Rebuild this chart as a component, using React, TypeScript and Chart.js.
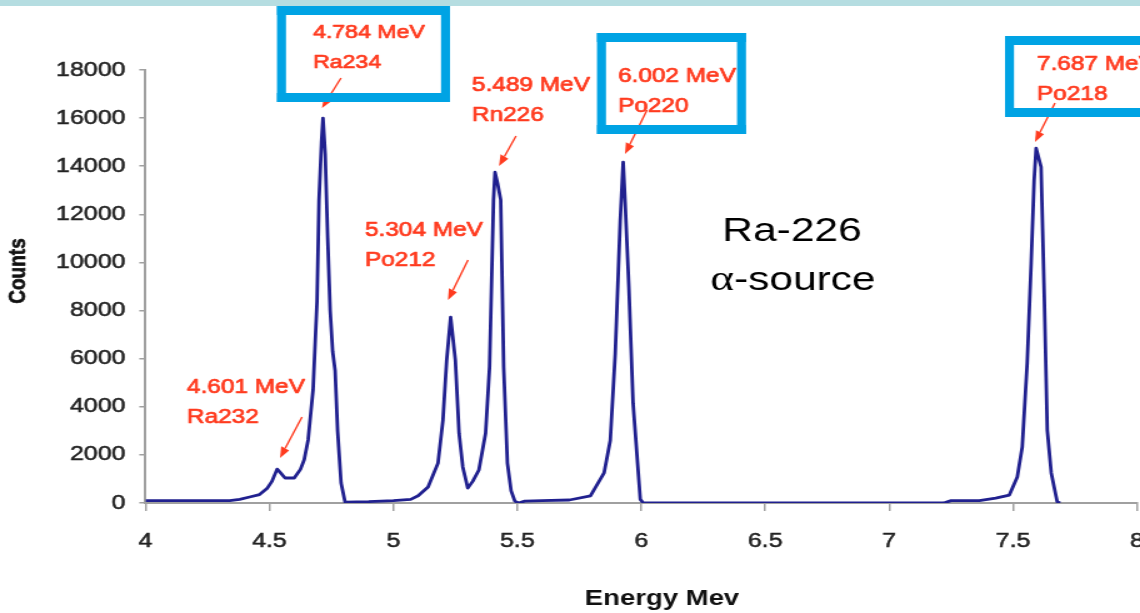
import React, { useEffect, useRef } from "react";
import { Chart, registerables } from "chart.js";

Chart.register(...registerables);

// ---------- data ----------
const energy: number[] = [
  4.0, 4.2, 4.34, 4.38, 4.42, 4.46, 4.49, 4.51, 4.531, 4.545, 4.563, 4.6, 4.625, 4.64, 4.656, 4.676,
  4.692, 4.7, 4.71, 4.716, 4.725, 4.735, 4.745, 4.755, 4.765, 4.775, 4.789, 4.805, 4.9, 5.0, 5.07,
  5.1, 5.14, 5.18, 5.2, 5.215, 5.231, 5.25, 5.265, 5.28, 5.3, 5.32, 5.345, 5.372, 5.388, 5.404,
  5.41, 5.42, 5.433, 5.445, 5.46, 5.475, 5.49, 5.505, 5.53, 5.6, 5.71, 5.795, 5.85, 5.875, 5.895,
  5.915, 5.927, 5.935, 5.95, 5.967, 5.996, 6.008, 6.5, 7.0, 7.22, 7.25, 7.364, 7.43, 7.485, 7.517,
  7.537, 7.557, 7.573, 7.585, 7.593, 7.613, 7.626, 7.638, 7.654, 7.678, 7.69,
];
const counts: number[] = [
  100, 100, 100, 150, 250, 350, 600, 900, 1410, 1250, 1040, 1040, 1400, 1790, 2620, 4700,
  8400, 12600, 15000, 16000, 14500, 11000, 8000, 6300, 5500, 3000, 830, 40, 60, 100, 150,
  300, 665, 1660, 3450, 5940, 7730, 5940, 2900, 1500, 620, 900, 1370, 2900, 5650, 12600,
  13750, 13300, 12600, 5650, 1660, 500, 80, 0, 80, 100, 125, 300, 1250, 2600, 6200,
  11700, 14170, 12500, 9000, 4150, 150, 0, 0, 0, 0, 100, 100, 200, 330, 1080,
  2330, 5820, 9980, 13420, 14750, 13970, 8560, 3030, 1250, 50, 0,
];
const xTickValues: number[] = [4, 4.5, 5, 5.5, 6, 6.5, 7, 7.5, 8];
const yTickValues: number[] = [0, 2000, 4000, 6000, 8000, 10000, 12000, 14000, 16000, 18000];
const peakEnergyLabels: string[] = ["4.784 MeV", "5.489 MeV", "6.002 MeV", "7.687 MeV", "5.304 MeV", "4.601 MeV"];
const peakIsotopes: string[] = ["Ra234", "Rn226", "Po220", "Po218", "Po212", "Ra232"];
const xTitle = "Energy Mev";
const yTitle = "Counts";
const sourceLine1 = "Ra-226";
const sourceAlpha = "α";
const sourceLine2 = "-source";

// ---------- layout (screen px) ----------
const W = 1140;
const H = 613;
const SX = 1.25; // horizontal stretch of the picture
const IW = W / SX;
const X = (px: number) => px / SX;

const RED = "#ff3b1f";
const BOXBLUE = "#00a3e4";
const SANS = "'Liberation Sans', Arial, sans-serif";
const SERIF = "'Liberation Serif', 'Times New Roman', serif";

// text anchor (left, first baseline), font size, arrow (from -> tip)
const labelLayout = [
  { x: 313, y: 38, size: 18.5, ax: 341, ay: 78, tx: 322, ty: 108 },
  { x: 472, y: 91, size: 19.5, ax: 516, ay: 136, tx: 499, ty: 166 },
  { x: 618, y: 82, size: 19.5, ax: 647, ay: 110, tx: 625, ty: 154 },
  { x: 1037, y: 70, size: 19.5, ax: 1055, ay: 103, tx: 1035, ty: 142 },
  { x: 365, y: 236, size: 19.5, ax: 468, ay: 260, tx: 448, ty: 300 },
  { x: 187, y: 393, size: 19.5, ax: 302, ay: 417, tx: 280, ty: 458 },
];
// outer rects of the highlight boxes (screen px)
const boxLayout = [
  { l: 277, t: 6, r: 450, b: 102 },
  { l: 597, t: 33, r: 746, b: 134 },
  { l: 1005, t: 36, r: 1160, b: 117 },
];
const BOX_T = 9;

const overlayPlugin = {
  id: "overlay",
  afterDraw(chart: any) {
    const ctx: CanvasRenderingContext2D = chart.ctx;
    ctx.save();
    // top band
    ctx.fillStyle = "#b5dde1";
    ctx.fillRect(0, 0, IW, 6);

    // arrows
    ctx.strokeStyle = RED;
    ctx.fillStyle = RED;
    ctx.lineWidth = 1.4;
    labelLayout.forEach((L) => {
      const x1 = X(L.ax), y1 = L.ay, x2 = X(L.tx), y2 = L.ty;
      const dx = L.tx - L.ax, dy = L.ty - L.ay;
      const len = Math.hypot(dx, dy);
      const ux = dx / len, uy = dy / len;
      const head = 11, hw = 4.5;
      const bx = L.tx - ux * head, by = L.ty - uy * head;
      ctx.beginPath();
      ctx.moveTo(x1, y1);
      ctx.lineTo(X(bx), by);
      ctx.stroke();
      ctx.beginPath();
      ctx.moveTo(x2, y2);
      ctx.lineTo(X(bx - uy * hw), by + ux * hw);
      ctx.lineTo(X(bx + uy * hw), by - ux * hw);
      ctx.closePath();
      ctx.fill();
    });

    // boxes
    ctx.fillStyle = BOXBLUE;
    boxLayout.forEach((B) => {
      ctx.fillRect(X(B.l), B.t, X(B.r) - X(B.l), BOX_T);
      ctx.fillRect(X(B.l), B.b - BOX_T, X(B.r) - X(B.l), BOX_T);
      ctx.fillRect(X(B.l), B.t, X(B.l + BOX_T) - X(B.l), B.b - B.t);
      ctx.fillRect(X(B.r - BOX_T), B.t, X(B.r) - X(B.r - BOX_T), B.b - B.t);
    });

    // red labels
    ctx.fillStyle = RED;
    ctx.strokeStyle = RED;
    ctx.lineWidth = 0.7;
    ctx.lineJoin = "round";
    ctx.textAlign = "left";
    ctx.textBaseline = "alphabetic";
    labelLayout.forEach((L, i) => {
      ctx.font = `${L.size}px ${SANS}`;
      ctx.fillText(peakEnergyLabels[i], X(L.x), L.y);
      ctx.strokeText(peakEnergyLabels[i], X(L.x), L.y);
      ctx.fillText(peakIsotopes[i], X(L.x), L.y + 29.5);
      ctx.strokeText(peakIsotopes[i], X(L.x), L.y + 29.5);
    });

    // source text
    ctx.fillStyle = "#000";
    ctx.font = `34px ${SANS}`;
    ctx.textAlign = "center";
    ctx.fillText(sourceLine1, X(792), 241);
    ctx.font = `36px ${SERIF}`;
    const wa = ctx.measureText(sourceAlpha).width;
    ctx.font = `34px ${SANS}`;
    const wb = ctx.measureText(sourceLine2).width;
    const start = X(793) - (wa + wb) / 2;
    ctx.textAlign = "left";
    ctx.font = `36px ${SERIF}`;
    ctx.fillText(sourceAlpha, start, 290);
    ctx.font = `34px ${SANS}`;
    ctx.fillText(sourceLine2, start + wa, 290);

    // axis titles
    ctx.fillStyle = "#111";
    ctx.strokeStyle = "#111";
    ctx.lineWidth = 0.6;
    ctx.font = `bold 22px ${SANS}`;
    ctx.textAlign = "center";
    ctx.fillText(xTitle, X(662), 605);
    ctx.save();
    ctx.translate(X(18), 271);
    ctx.rotate(-Math.PI / 2);
    ctx.font = `bold 19px ${SANS}`;
    ctx.textAlign = "center";
    ctx.textBaseline = "middle";
    ctx.fillText(yTitle, 0, 0);
    ctx.strokeText(yTitle, 0, 0);
    ctx.restore();

    ctx.restore();
  },
};

export default function App() {
  const ref = useRef<HTMLCanvasElement | null>(null);

  useEffect(() => {
    document.body.style.margin = "0";
    const canvas = ref.current;
    if (!canvas) return;
    const chart = new Chart(canvas, {
      type: "scatter",
      data: {
        datasets: [
          {
            data: energy.map((e, i) => ({ x: e, y: counts[i] })),
            showLine: true,
            borderColor: "#20208f",
            backgroundColor: "#20208f",
            borderWidth: 2.8,
            borderJoinStyle: "round",
            pointRadius: 0,
            tension: 0,
            fill: false,
          },
        ],
      },
      options: {
        responsive: false,
        animation: false,
        devicePixelRatio: 1,
        events: [],
        layout: { padding: { top: 70, right: 2.4, left: 0, bottom: 0 } },
        plugins: { legend: { display: false }, tooltip: { enabled: false } },
        scales: {
          x: {
            type: "linear",
            min: 4,
            max: 8,
            afterBuildTicks: (s: any) => {
              s.ticks = xTickValues.map((v) => ({ value: v }));
            },
            ticks: {
              autoSkip: false,
              maxRotation: 0,
              color: "#222",
              textStrokeColor: "#222",
              textStrokeWidth: 0.5,
              font: { family: SANS, size: 20 },
              padding: 18,
              callback: (v: any) => String(v),
            },
            grid: { drawOnChartArea: false, drawTicks: true, tickLength: 8, color: "#a0a0a0", lineWidth: 1.5 },
            border: { color: "#a0a0a0", width: 2 },
            afterFit: (s: any) => {
              s.height = H - 503;
              s.paddingLeft = 0;
              s.paddingRight = 0;
            },
          },
          y: {
            type: "linear",
            min: 0,
            max: 18000,
            afterBuildTicks: (s: any) => {
              s.ticks = yTickValues.map((v) => ({ value: v }));
            },
            ticks: {
              color: "#222",
              textStrokeColor: "#222",
              textStrokeWidth: 0.5,
              font: { family: SANS, size: 20 },
              padding: 11,
              callback: (v: any) => String(v),
            },
            grid: { drawOnChartArea: false, drawTicks: true, tickLength: 5, color: "#a0a0a0", lineWidth: 1.5 },
            border: { color: "#a0a0a0", width: 2 },
            afterFit: (s: any) => {
              s.width = X(145.5);
              s.paddingTop = 0;
              s.paddingBottom = 0;
            },
          },
        },
      },
      plugins: [overlayPlugin],
    } as any);
    return () => chart.destroy();
  }, []);

  return (
    <div style={{ position: "relative", width: W, height: H, overflow: "hidden", background: "#fff" }}>
      <div
        style={{
          position: "absolute",
          left: 0,
          top: 0,
          width: IW,
          height: H,
          transform: `scaleX(${SX})`,
          transformOrigin: "0 0",
        }}
      >
        <canvas ref={ref} width={IW} height={H} style={{ display: "block" }} />
      </div>
    </div>
  );
}
